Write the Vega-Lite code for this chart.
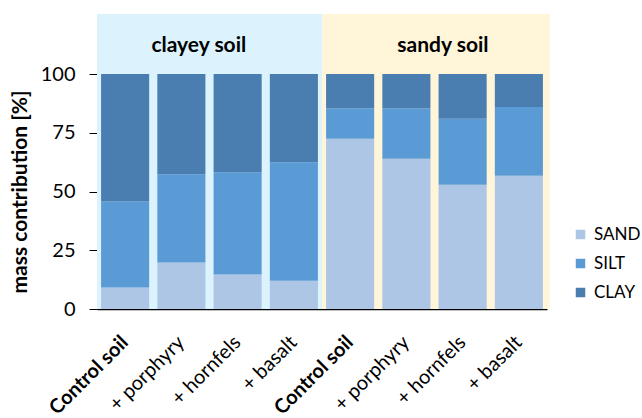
{
  "$schema": "https://vega.github.io/schema/vega-lite/v6.json",
  "width": 450,
  "height": 235,
  "autosize": {"type": "none"},
  "padding": {"left": 97, "top": 74, "right": 95, "bottom": 109},
  "background": "white",
  "config": {"view": {"stroke": null}, "font": "Lato"},
  "datasets": {
    "groups": [
      {"group": "clayey soil", "x0": 0, "x1": 4, "xc": 1.81, "y0": 0, "y1": 125.5, "yt": 109.4, "bg": "#dcf3fd"},
      {"group": "sandy soil", "x0": 4, "x1": 8.05, "xc": 6.15, "y0": 0, "y1": 125.5, "yt": 109.4, "bg": "#fff5d9"}
    ],
    "bars": [
      {"sample": "clayey: Control soil", "fraction": "SAND", "ord": 1, "value": 9.2},
      {"sample": "clayey: Control soil", "fraction": "SILT", "ord": 2, "value": 36.5},
      {"sample": "clayey: Control soil", "fraction": "CLAY", "ord": 3, "value": 54.3},
      {"sample": "clayey: + porphyry", "fraction": "SAND", "ord": 1, "value": 19.8},
      {"sample": "clayey: + porphyry", "fraction": "SILT", "ord": 2, "value": 37.5},
      {"sample": "clayey: + porphyry", "fraction": "CLAY", "ord": 3, "value": 42.7},
      {"sample": "clayey: + hornfels", "fraction": "SAND", "ord": 1, "value": 14.7},
      {"sample": "clayey: + hornfels", "fraction": "SILT", "ord": 2, "value": 43.5},
      {"sample": "clayey: + hornfels", "fraction": "CLAY", "ord": 3, "value": 41.8},
      {"sample": "clayey: + basalt", "fraction": "SAND", "ord": 1, "value": 12.0},
      {"sample": "clayey: + basalt", "fraction": "SILT", "ord": 2, "value": 50.5},
      {"sample": "clayey: + basalt", "fraction": "CLAY", "ord": 3, "value": 37.5},
      {"sample": "sandy: Control soil", "fraction": "SAND", "ord": 1, "value": 72.4},
      {"sample": "sandy: Control soil", "fraction": "SILT", "ord": 2, "value": 13.0},
      {"sample": "sandy: Control soil", "fraction": "CLAY", "ord": 3, "value": 14.6},
      {"sample": "sandy: + porphyry", "fraction": "SAND", "ord": 1, "value": 63.9},
      {"sample": "sandy: + porphyry", "fraction": "SILT", "ord": 2, "value": 21.5},
      {"sample": "sandy: + porphyry", "fraction": "CLAY", "ord": 3, "value": 14.6},
      {"sample": "sandy: + hornfels", "fraction": "SAND", "ord": 1, "value": 52.9},
      {"sample": "sandy: + hornfels", "fraction": "SILT", "ord": 2, "value": 28.1},
      {"sample": "sandy: + hornfels", "fraction": "CLAY", "ord": 3, "value": 19.0},
      {"sample": "sandy: + basalt", "fraction": "SAND", "ord": 1, "value": 56.7},
      {"sample": "sandy: + basalt", "fraction": "SILT", "ord": 2, "value": 29.3},
      {"sample": "sandy: + basalt", "fraction": "CLAY", "ord": 3, "value": 14.0}
    ]
  },
  "layer": [
    {
      "data": {"name": "groups"},
      "layer": [
        {
          "mark": {"type": "rect", "clip": false},
          "encoding": {
            "x": {"field": "x0", "type": "quantitative", "scale": {"domain": [0, 8], "nice": false, "zero": false}, "axis": null},
            "x2": {"field": "x1"},
            "y": {"field": "y0", "type": "quantitative", "scale": {"domain": [0, 100], "nice": false}, "axis": null},
            "y2": {"field": "y1"},
            "fill": {"field": "bg", "type": "nominal", "scale": null}
          }
        },
        {
          "mark": {"type": "text", "clip": false, "fontSize": 21, "fontWeight": "bold", "color": "#000000", "baseline": "alphabetic", "align": "center"},
          "encoding": {
            "x": {"field": "xc", "type": "quantitative", "scale": {"domain": [0, 8], "nice": false, "zero": false}, "axis": null},
            "y": {"field": "yt", "type": "quantitative", "scale": {"domain": [0, 100], "nice": false}, "axis": null},
            "text": {"field": "group"}
          }
        }
      ]
    },
    {
      "data": {"name": "bars"},
      "mark": {"type": "bar"},
      "encoding": {
        "x": {
          "field": "sample", "type": "nominal", "sort": null,
          "scale": {"paddingInner": 0.145, "paddingOuter": 0.0725},
          "axis": {
            "title": null, "labelAngle": -45, "labelAlign": "right", "labelBaseline": "middle",
            "labelFontSize": 20, "labelColor": "#000000", "labelPadding": 30, "ticks": false,
            "labelOverlap": false, "labelExpr": "split(datum.label, ': ')[1]",
            "labelFontWeight": {"condition": {"test": "indexof(datum.label, 'Control') >= 0", "value": "bold"}, "value": "normal"},
            "domainColor": "#000000", "domainWidth": 1.5
          }
        },
        "y": {
          "field": "value", "type": "quantitative", "stack": "zero",
          "scale": {"domain": [0, 100], "nice": false},
          "axis": {
            "title": "mass contribution [%]", "titleFontSize": 21, "titleFontWeight": "bold", "titleColor": "#000000",
            "titlePadding": 10, "values": [0, 25, 50, 75, 100], "grid": false,
            "labelFontSize": 20, "labelColor": "#000000", "labelPadding": 14, "tickSize": 8,
            "tickColor": "#000000", "domainColor": "#000000"
          }
        },
        "color": {
          "field": "fraction", "type": "nominal",
          "scale": {"domain": ["SAND", "SILT", "CLAY"], "range": ["#adc6e5", "#5b9bd5", "#4a7db0"]},
          "legend": {
            "title": null, "orient": "none", "legendX": 475, "legendY": 152, "padding": 0,
            "symbolType": "square", "symbolSize": 90, "symbolStrokeWidth": 0, "labelFontSize": 17,
            "labelColor": "#000000", "labelOffset": 5, "rowPadding": 11
          }
        },
        "order": {"field": "ord", "type": "quantitative"}
      }
    }
  ],
  "resolve": {"scale": {"x": "independent"}, "axis": {"x": "independent", "y": "independent"}}
}
